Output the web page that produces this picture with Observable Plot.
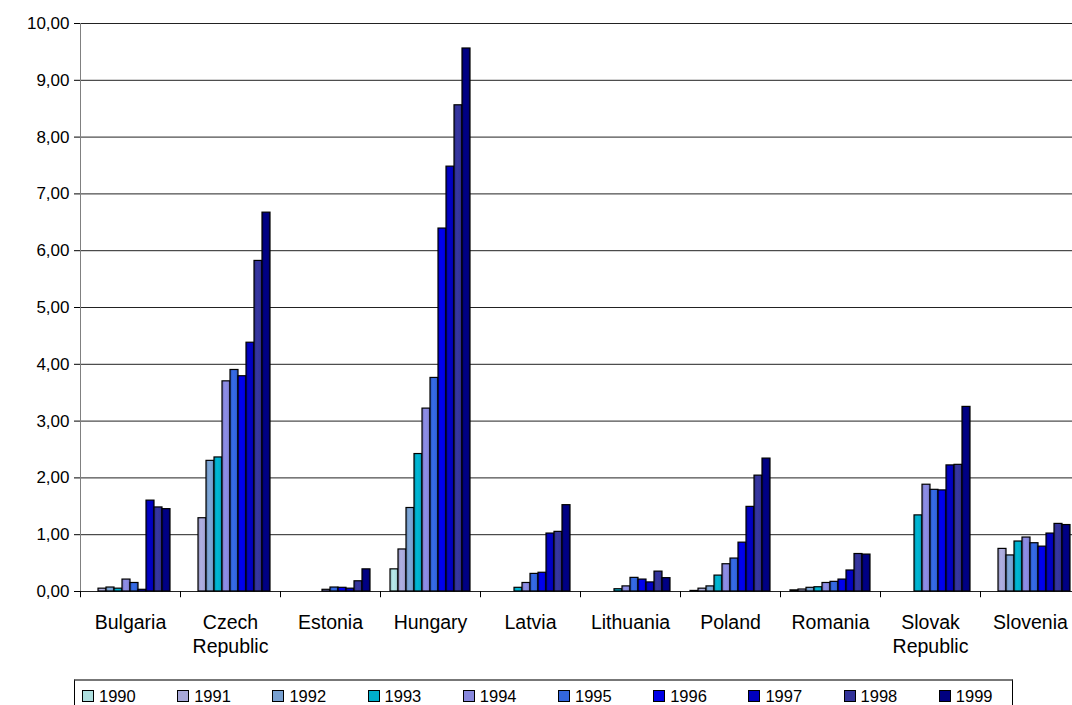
<!DOCTYPE html>
<html><head><meta charset="utf-8">
<script src="https://cdn.jsdelivr.net/npm/d3@7"></script>
<script src="https://cdn.jsdelivr.net/npm/@observablehq/plot@0.6"></script>
<style>
html,body{margin:0;padding:0;background:#fff;overflow:hidden;width:1072px;height:705px;}
#wrap{position:relative;width:1072px;height:705px;overflow:hidden;}
#chart svg{max-width:none !important;display:block;}
#chart svg [aria-label^="fx-axis"] text{font-size:19.5px;}
#chart svg [aria-label^="y-axis"] text{font-size:17px;}
#legend{position:absolute;left:74px;top:679px;width:939px;height:40px;border:1px solid #000;border-top:2px solid #777;box-sizing:border-box;font:16.5px "Liberation Sans",Arial,sans-serif;color:#000;}
.item{position:absolute;top:6px;display:flex;align-items:center;line-height:18px;}
.sw{width:10px;height:10px;border:1px solid #000;margin-right:5px;}
</style></head><body>
<div id="wrap"><div id="chart"></div><div id="legend"></div></div>
<script>
const countries = ["Bulgaria","Czech Republic","Estonia","Hungary","Latvia","Lithuania","Poland","Romania","Slovak Republic","Slovenia"];
const years = ["1990","1991","1992","1993","1994","1995","1996","1997","1998","1999"];
const colors = ["#AEDFDF","#A8A8D8","#78A0D0","#00AECB","#8888DD","#3366DD","#0000E6","#0000BE","#333399","#000080"];

const bulgaria  = [0, 0.05, 0.07, 0.05, 0.21, 0.15, 0.03, 1.60, 1.48, 1.45];
const czech     = [0, 1.29, 2.30, 2.36, 3.70, 3.90, 3.79, 4.38, 5.82, 6.67];
const estonia   = [0, 0, 0, 0, 0.03, 0.07, 0.065, 0.05, 0.18, 0.39];
const hungary   = [0.39, 0.74, 1.47, 2.42, 3.22, 3.76, 6.39, 7.48, 8.56, 9.56];
const latvia    = [0, 0, 0, 0.065, 0.15, 0.31, 0.33, 1.02, 1.05, 1.52];
const lithuania = [0, 0, 0, 0.04, 0.09, 0.24, 0.21, 0.16, 0.35, 0.235];
const poland    = [0.01, 0.05, 0.09, 0.28, 0.48, 0.58, 0.86, 1.49, 2.04, 2.34];
const romania   = [0.02, 0.035, 0.065, 0.075, 0.15, 0.17, 0.21, 0.37, 0.66, 0.65];
const slovak    = [0, 0, 0, 1.34, 1.88, 1.79, 1.78, 2.22, 2.23, 3.25];
const slovenia  = [0, 0.75, 0.635, 0.88, 0.95, 0.85, 0.79, 1.02, 1.19, 1.17];
const yTicks = [0,1,2,3,4,5,6,7,8,9,10];

const series = [bulgaria, czech, estonia, hungary, latvia, lithuania, poland, romania, slovak, slovenia];
const data = countries.flatMap((c, i) => years.map((y, j) => ({country: c, year: y, value: series[i][j]})));
const gradientIds = years.map((y, i) => `url(#grad${i})`);

const chart = Plot.plot({
  width: 1080, height: 680,
  marginLeft: 79, marginRight: 0, marginTop: 23, marginBottom: 89,
  style: {fontFamily: '"Liberation Sans", Arial, sans-serif', fontSize: "16px", color: "#000", background: "white"},
  fx: {domain: countries, padding: 0, label: null, axis: "bottom", tickSize: 0, tickPadding: 24, tickFormat: d => d.replace(" ", "\n")},
  x: {domain: years, paddingInner: 0, paddingOuter: 0.73, axis: null},
  y: {domain: [0, 10], ticks: yTicks, tickFormat: d => d.toFixed(2).replace(".", ","), tickSize: 6, tickPadding: 5, label: null},
  color: {domain: years, range: gradientIds},
  marks: [
    Plot.ruleY(yTicks, {stroke: "#222", strokeWidth: 1}),
    Plot.barY(data, {fx: "country", x: "year", y: "value", fill: "year", stroke: "#000", strokeWidth: 1.2}),
    Plot.ruleX(countries, {fx: d => d, x: null, y1: 0, y2: -0.11, dx: -50, stroke: "#000"}),
    Plot.ruleX(countries.slice(0, 1), {fx: d => d, x: null, y1: 0, y2: 10, dx: -50, stroke: "#808080"})
  ]
});

// gradients for the shaded bars
const defs = d3.select(chart).insert("defs", ":first-child");
colors.forEach((c, i) => {
  const base = d3.rgb(c);
  const g = defs.append("linearGradient").attr("id", `grad${i}`).attr("x1", "0").attr("x2", "1").attr("y1", "0").attr("y2", "0");
  g.append("stop").attr("offset", "0%").attr("stop-color", base.darker(0.6).formatHex());
  g.append("stop").attr("offset", "35%").attr("stop-color", base.brighter(0.15).formatHex());
  g.append("stop").attr("offset", "75%").attr("stop-color", base.formatHex());
  g.append("stop").attr("offset", "100%").attr("stop-color", base.darker(0.8).formatHex());
});

// line spacing of the two-line category labels
d3.select(chart).selectAll('[aria-label^="fx-axis"] text').each(function() {
  d3.select(this).selectAll("tspan").each(function(_, k) { if (k > 0) d3.select(this).attr("dy", "1.22em"); });
});

document.getElementById("chart").appendChild(chart);

const legend = document.getElementById("legend");
years.forEach((y, i) => {
  const item = document.createElement("div");
  item.className = "item";
  item.style.left = (7 + i * 95.2) + "px";
  const sw = document.createElement("span");
  sw.className = "sw";
  sw.style.background = colors[i];
  const t = document.createElement("span");
  t.textContent = y;
  item.appendChild(sw); item.appendChild(t);
  legend.appendChild(item);
});
</script>
</body></html>
